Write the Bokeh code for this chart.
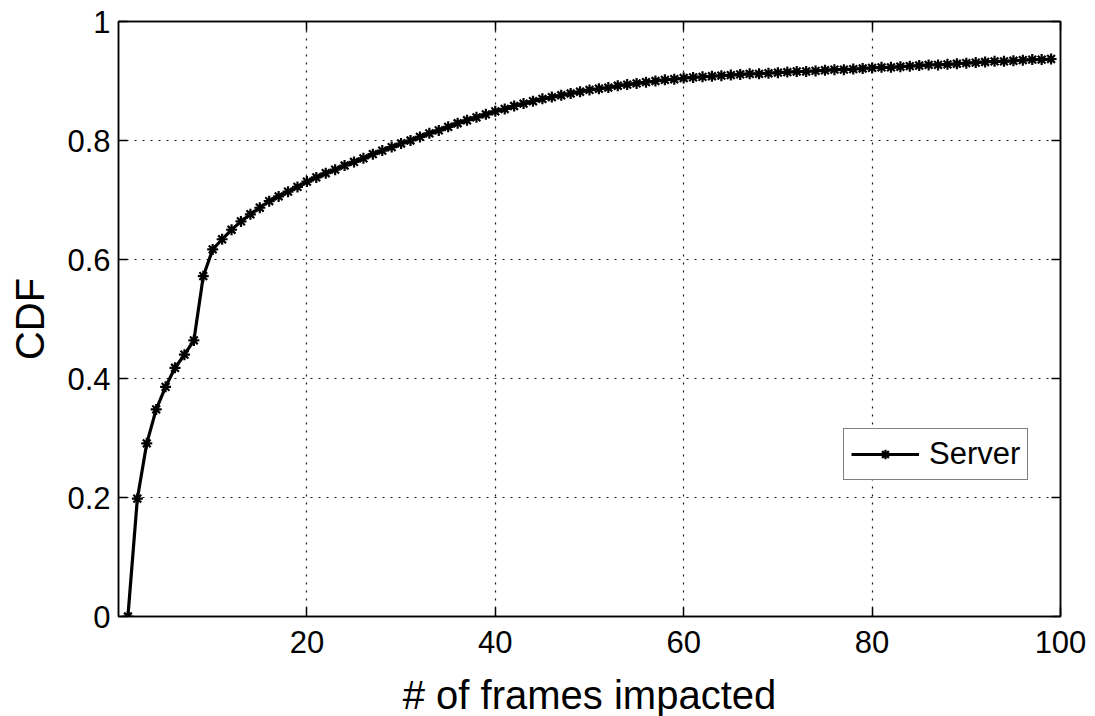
from bokeh.plotting import figure
from bokeh.models import (Range1d, FixedTicker, LinearAxis, CustomJSTickFormatter,
                          Legend, LegendItem)
from bokeh.embed import file_html
from bokeh.resources import INLINE

frames = list(range(1, 100))
cdf = [0.000, 0.198, 0.291, 0.348, 0.386, 0.418, 0.440, 0.464, 0.572, 0.617,
       0.634, 0.650, 0.664, 0.676, 0.687, 0.698, 0.706, 0.714, 0.722, 0.731,
       0.738, 0.745, 0.751, 0.758, 0.764, 0.770, 0.777, 0.783, 0.789, 0.795,
       0.800, 0.806, 0.812, 0.817, 0.823, 0.829, 0.834, 0.839, 0.844, 0.849,
       0.853, 0.858, 0.862, 0.866, 0.870, 0.873, 0.876, 0.879, 0.882, 0.885,
       0.887, 0.889, 0.892, 0.894, 0.896, 0.898, 0.900, 0.902, 0.903, 0.905,
       0.906, 0.907, 0.908, 0.909, 0.910, 0.911, 0.912, 0.912, 0.913, 0.914,
       0.915, 0.916, 0.916, 0.917, 0.918, 0.919, 0.919, 0.920, 0.921, 0.922,
       0.923, 0.923, 0.924, 0.925, 0.926, 0.927, 0.927, 0.928, 0.929, 0.930,
       0.931, 0.932, 0.933, 0.933, 0.934, 0.935, 0.936, 0.936, 0.937]
x_ticks = [20, 40, 60, 80, 100]
y_ticks = [0, 0.2, 0.4, 0.6, 0.8, 1.0]
x_label = "# of frames impacted"
y_label = "CDF"
series_name = "Server"

FONT = "Liberation Sans"

p = figure(frame_width=942, frame_height=595, output_backend="svg",
           toolbar_location=None,
           x_range=Range1d(0, 100), y_range=Range1d(0, 1),
           min_border_left=118, min_border_right=28, min_border_top=21,
           min_border_bottom=98)
p.background_fill_color = "white"
p.border_fill_color = "white"
p.outline_line_color = "black"
p.outline_line_width = 1.5

# grid
for g, ticks in ((p.xgrid, x_ticks), (p.ygrid, y_ticks)):
    g.ticker = FixedTicker(ticks=ticks)
    g.grid_line_color = "black"
    g.grid_line_dash = "2 6"
    g.grid_line_width = 1.2
    g.grid_line_alpha = 0.9

fmt = CustomJSTickFormatter(code="return Number(tick.toFixed(1)).toString();")

xa = p.xaxis[0]
xa.ticker = FixedTicker(ticks=x_ticks)
ya = p.yaxis[0]
ya.ticker = FixedTicker(ticks=y_ticks)
ya.formatter = fmt
for ax in (xa, ya):
    ax.axis_line_color = "black"
    ax.axis_line_width = 1.5
    ax.major_tick_in = 9
    ax.major_tick_out = 0
    ax.major_tick_line_color = "black"
    ax.major_tick_line_width = 1.5
    ax.minor_tick_line_color = None
    ax.major_label_text_font = FONT
    ax.major_label_text_font_size = "31px"
    ax.major_label_text_color = "black"
    ax.axis_label_text_font = FONT
    ax.axis_label_text_font_style = "normal"
    ax.axis_label_text_color = "black"
    ax.axis_label_text_font_size = "40px"
xa.axis_label = x_label
xa.major_label_standoff = 14
xa.axis_label_standoff = 17
ya.axis_label = y_label
ya.major_label_standoff = 8
ya.axis_label_standoff = 12

# mirrored ticks on top/right
empty = CustomJSTickFormatter(code="return '';")
top = LinearAxis(ticker=FixedTicker(ticks=x_ticks), formatter=empty)
right = LinearAxis(ticker=FixedTicker(ticks=y_ticks), formatter=empty)
for ax in (top, right):
    ax.axis_line_color = "black"
    ax.axis_line_width = 1.5
    ax.major_tick_in = 9
    ax.major_tick_out = 0
    ax.major_tick_line_color = "black"
    ax.major_tick_line_width = 1.5
    ax.minor_tick_line_color = None
    ax.major_label_text_font_size = "1px"
    ax.major_label_standoff = 0
p.add_layout(top, "above")
p.add_layout(right, "right")

ln = p.line(frames, cdf, line_color="black", line_width=3.2)
mk = p.scatter(frames, cdf, marker="asterisk", size=11, line_color="black",
               line_width=2.2)

legend = Legend(items=[LegendItem(label=series_name, renderers=[ln, mk])],
                location=(725, 136))
legend.label_text_font = FONT
legend.label_text_font_size = "31px"
legend.label_text_color = "black"
legend.border_line_color = "black"
legend.border_line_width = 1.2
legend.background_fill_alpha = 1
legend.padding = 7
legend.margin = 0
legend.glyph_width = 68
legend.glyph_height = 24
legend.label_height = 24
legend.label_standoff = 10
p.add_layout(legend, "center")

open("out.html", "w").write(file_html(p, INLINE))
